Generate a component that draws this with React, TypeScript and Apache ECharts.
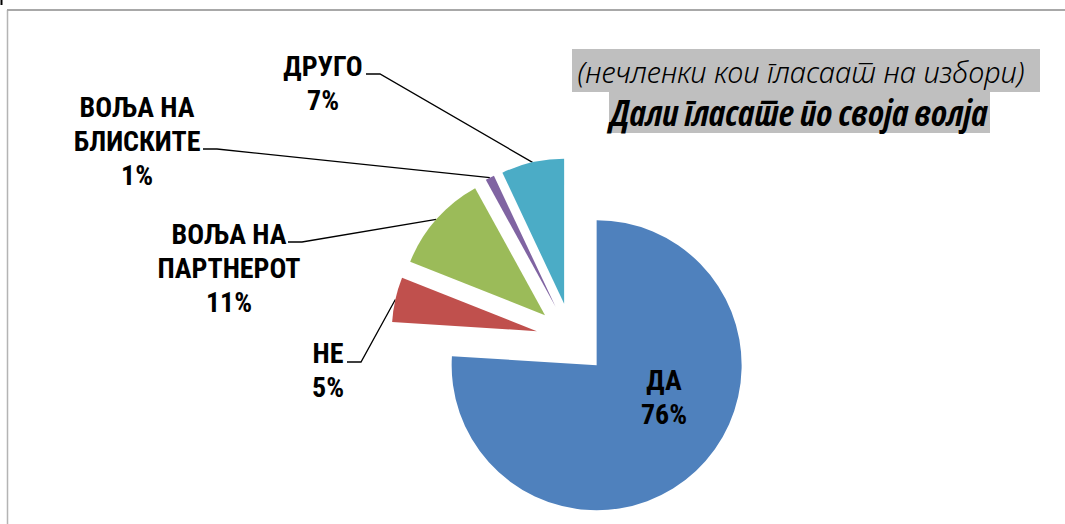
import React, { useEffect, useRef } from 'react';
import * as echarts from 'echarts';

// ---- data ----
const categories = ['ДА', 'НЕ', 'ВОЉА НА\nПАРТНЕРОТ', 'ВОЉА НА\nБЛИСКИТЕ', 'ДРУГО'];
const values = [76, 5, 11, 1, 7];
const colors = ['#4f81bd', '#c0504d', '#9bbb59', '#8064a2', '#4bacc6'];
const titleLine1 = '(нечленки кои гласаат на избори)';
const titleLine2 = 'Дали гласате по своја волја';

// ---- layout (positions / styles) ----
const PIE_CENTER = [572, 339];
const PIE_RADIUS = 145;
const EXPLODE = 36;
const labelCenters = [[664, 397], [328, 370], [229, 268], [137, 141], [323, 83]];
const leaderAnchors: (number[] | null)[] = [null, [347, 362], [288, 242], [203, 149], [366, 74]];
const LEADER_BEND = 14;
const LABEL_FONT = "'Roboto Condensed', 'DejaVu Sans Condensed', sans-serif";

export default function App() {
  const ref = useRef<HTMLDivElement>(null);
  useEffect(() => {
    if (!ref.current) return;
    const chart = echarts.init(ref.current, undefined, { renderer: 'svg' });
    const total = values.reduce((a, b) => a + b, 0);
    let cum = 0;
    const series = values.map((v, i) => {
      const midFrac = (cum + v / 2) / total;
      cum += v;
      const ang = Math.PI / 2 - midFrac * 2 * Math.PI;
      const cx = PIE_CENTER[0] + Math.cos(ang) * EXPLODE;
      const cy = PIE_CENTER[1] - Math.sin(ang) * EXPLODE;
      return {
        type: 'pie',
        center: [cx, cy],
        radius: PIE_RADIUS,
        startAngle: 90,
        clockwise: true,
        silent: true,
        avoidLabelOverlap: false,
        emphasis: { disabled: true },
        data: values.map((val, j) => ({
          name: categories[j],
          value: val,
          itemStyle: { color: j === i ? colors[j] : 'rgba(0,0,0,0)' },
          label: { show: j === i },
          labelLine: { show: j === i && i !== 0 },
        })),
        label: {
          position: i === 0 ? 'inside' : 'outside',
          formatter: (p: any) => `${p.name}\n${Math.round(p.percent)}%`,
          color: '#000',
          fontFamily: LABEL_FONT,
          fontWeight: 'bold',
          fontSize: 28,
          lineHeight: 34,
          align: 'center',
        },
        labelLine: { length: 10, length2: 10, lineStyle: { color: '#000', width: 1.3 } },
        labelLayout: (p: any) => {
          if (p.dataIndex !== i) return {};
          const [lx, ly] = labelCenters[i];
          const res: any = { x: lx, y: ly, align: 'center', verticalAlign: 'middle' };
          const a = leaderAnchors[i];
          if (a && p.labelLinePoints) {
            res.labelLinePoints = [p.labelLinePoints[0], [a[0] + LEADER_BEND, a[1]], [a[0], a[1]]];
          }
          return res;
        },
      };
    });

    chart.setOption({
      animation: false,
      backgroundColor: '#ffffff',
      series,
      graphic: [
        { type: 'line', shape: { x1: 7.5, y1: 10, x2: 7.5, y2: 524 }, style: { stroke: '#b4b4b4', lineWidth: 1.5 } },
        { type: 'line', shape: { x1: 7, y1: 10, x2: 1065, y2: 10 }, style: { stroke: '#a8a8a8', lineWidth: 2 } },
        { type: 'line', shape: { x1: 1.5, y1: 0, x2: 1.5, y2: 5 }, style: { stroke: '#000', lineWidth: 2 } },
        { type: 'rect', shape: { x: 572, y: 49, width: 468, height: 43 }, style: { fill: '#bfbfbf' } },
        { type: 'rect', shape: { x: 609, y: 92, width: 381, height: 41 }, style: { fill: '#bfbfbf' } },
        {
          type: 'text', x: 801, y: 71,
          style: {
            text: titleLine1, align: 'center', verticalAlign: 'middle', fill: '#000',
            font: "italic 300 29px 'Noto Sans', sans-serif",
          },
        },
        {
          type: 'text', x: 799, y: 112,
          style: {
            text: titleLine2, align: 'center', verticalAlign: 'middle', fill: '#000',
            font: "italic bold condensed 36px 'Open Sans', 'Roboto Condensed', sans-serif",
          },
        },
      ],
    });
    return () => chart.dispose();
  }, []);
  return (
    <div lang="mk" style={{ position: 'fixed', left: 0, top: 0, width: 1065, height: 524 }}>
      <div ref={ref} style={{ width: 1065, height: 524 }} />
    </div>
  );
}
